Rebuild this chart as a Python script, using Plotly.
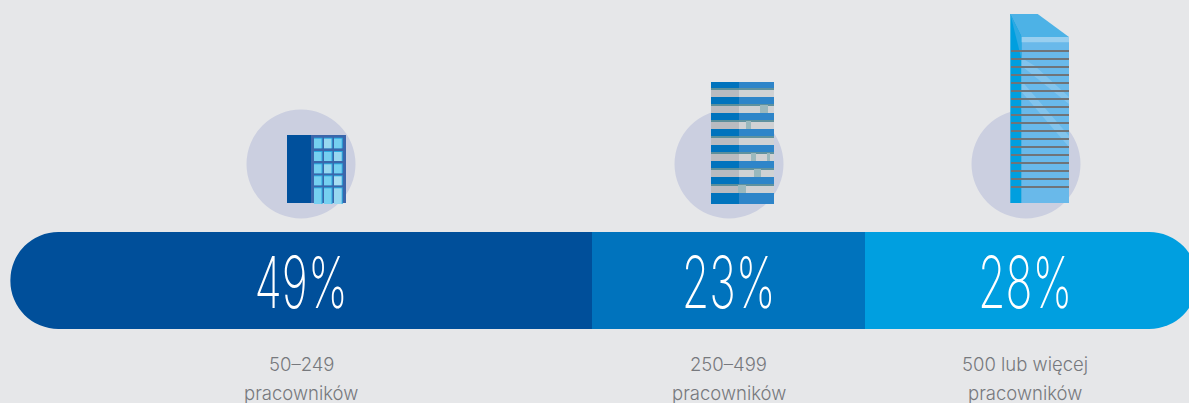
import plotly.graph_objects as go

# Share of companies by headcount band
band_ranges = ["50–249", "250–499", "500 lub więcej"]
band_unit = "pracowników"
shares = [49, 23, 28]
colors = ["#004f9a", "#0073bd", "#009fe0"]

W, H = 1189, 403
BG = "#e6e7e9"
UNIT_PX = 11.8696
SEAM_PX = 592
BAR_TOP, BAR_BOTTOM = 232, 329


def fx(px):
    return px / W


def fy(py):
    return 1 - py / H


def rect(x0, y0, x1, y1, color):
    return dict(type="rect", xref="paper", yref="paper", x0=fx(x0), x1=fx(x1),
                y0=fy(y0), y1=fy(y1), fillcolor=color, line_width=0, layer="above")


def poly(points, color):
    path = "M " + " L ".join(f"{fx(x):.5f} {fy(y):.5f}" for x, y in points) + " Z"
    return dict(type="path", xref="paper", yref="paper", path=path,
                fillcolor=color, line_width=0, layer="above")


def circle(cx, cy, r, color):
    return dict(type="circle", xref="paper", yref="paper", x0=fx(cx - r), x1=fx(cx + r),
                y0=fy(cy + r), y1=fy(cy - r), fillcolor=color, line_width=0, layer="above")


shapes = [circle(cx, 164, 54.5, "#cbcfe0") for cx in (301, 729, 1026)]

# Low-rise office block
shapes += [rect(287, 135, 311, 203, "#00509c"), rect(311, 135, 346, 203, "#3a66ab")]
win_cols = [(314, 322.5), (324, 332.5), (334, 342.7)]
win_rows = [(137.7, 148.3), (151, 161), (163.3, 173.3), (175.3, 185.3), (187.3, 204)]
win_fill = [["#75cff0", "#97d7f0", "#75cff0"],
            ["#75cff0", "#75cff0", "#97d7f0"],
            ["#75cff0", "#97d7f0", "#75cff0"],
            ["#75cff0", "#75cff0", "#a6ddf2"],
            ["#75cff0", "#75cff0", "#97d7f0"]]
for r, (y0, y1) in enumerate(win_rows):
    for c, (x0, x1) in enumerate(win_cols):
        shapes.append(rect(x0, y0, x1, y1, "#29a9e0"))
        shapes.append(rect(x0, y0 + 1, x1 - 1, y1, win_fill[r][c]))

# Mid-rise block with alternating floors
shapes += [rect(711, 82, 739, 204, "#0073bd"), rect(739, 82, 774, 204, "#2e85c9")]
for i in range(7):
    top = 88 + 16 * i
    shapes += [rect(711, top, 739, top + 2, "#5b8f9b"), rect(739, top, 774, top + 2, "#5f929f"),
               rect(711, top + 2, 739, top + 9, "#b9bbc0"), rect(739, top + 2, 774, top + 9, "#d0d2d4")]
for x0, y0, x1, y1 in [(760, 105, 768, 113), (746, 121, 751, 129), (751, 153, 756, 161),
                       (767, 153, 770, 161), (754, 169, 761, 177), (738, 185, 746, 193)]:
    shapes.append(rect(x0, y0, x1, y1, "#9ab8bd"))

# High-rise tower
shapes += [
    rect(1010.3, 14, 1021.7, 203, "#009fdf"),
    rect(1021.7, 37, 1069, 203, "#69b9ea"),
    poly([(1010.3, 14), (1037.7, 14), (1069, 37), (1021.7, 37)], "#4db2e6"),
    poly([(1010.3, 14), (1021.7, 37), (1021.7, 60)], "#2ba9e3"),
    rect(1021.7, 37, 1069, 42.3, "#99cfef"),
    poly([(1021.7, 58), (1035, 66), (1069, 97), (1069, 104), (1021.7, 66)], "rgba(255,255,255,0.17)"),
    poly([(1021.7, 81), (1069, 136), (1069, 147), (1021.7, 92)], "rgba(255,255,255,0.17)"),
]
for i in range(18):
    y = 51 + 8 * i
    shapes.append(rect(1011, y - 1, 1069, y + 1, "#6f7479"))

# The axis zero sits on the first seam: the first band stacks leftwards and the
# other two rightwards, so only the two outer ends pick up the round caps.
seam = shares[0]
fig = go.Figure()
fig.add_bar(x=[-shares[0]], y=[0], orientation="h", width=1,
            marker=dict(color=colors[0], cornerradius="50%", line_width=0), hoverinfo="skip")
fig.add_bar(x=[shares[1]], y=[0], orientation="h", width=1,
            marker=dict(color=colors[1], line_width=0), hoverinfo="skip")
fig.add_bar(x=[shares[2]], y=[0], orientation="h", width=1,
            marker=dict(color=colors[2], cornerradius="50%", line_width=0), hoverinfo="skip")

x_left = -SEAM_PX / UNIT_PX
x_right = x_left + W / UNIT_PX
bar_h = BAR_BOTTOM - BAR_TOP
y_top = 0.5 + BAR_TOP / bar_h
y_bottom = -0.5 - (H - BAR_BOTTOM) / bar_h

annotations = []
shifts = [0, 0, -6]
running = -seam
for share, band, shift in zip(shares, band_ranges, shifts):
    mid = running + share / 2
    running += share
    annotations.append(dict(x=mid, xref="x", y=fy(281.5), yref="paper", yanchor="middle", xshift=shift,
                            text=f"{share}%", showarrow=False,
                            font=dict(family="Inter", size=72, color="#ffffff", weight=150)))
    for line, py in ((band, 364), (band_unit, 393)):
        annotations.append(dict(x=mid, xref="x", y=fy(py), yref="paper", yanchor="middle",
                                xshift=shift, text=line, showarrow=False,
                                font=dict(family="Inter", size=18.5, color="#77797d", weight=300)))

fig.update_layout(
    width=W, height=H, margin=dict(l=0, r=0, t=0, b=0, autoexpand=False),
    paper_bgcolor=BG, plot_bgcolor=BG, barmode="relative", showlegend=False,
    xaxis=dict(range=[x_left, x_right], visible=False, fixedrange=True),
    yaxis=dict(range=[y_bottom, y_top], visible=False, fixedrange=True),
    shapes=shapes, annotations=annotations,
)

# Narrow the large percentage figures to a condensed look
squeeze = """
document.querySelectorAll('.annotation-text').forEach(function (t) {
  if (/%$/.test(t.textContent)) {
    t.style.transformBox = 'fill-box';
    t.style.transformOrigin = 'center';
    t.style.transform = 'scaleX(0.62)';
  }
});
"""
fig.write_html("out.html", config={"displayModeBar": False}, post_script=squeeze)
